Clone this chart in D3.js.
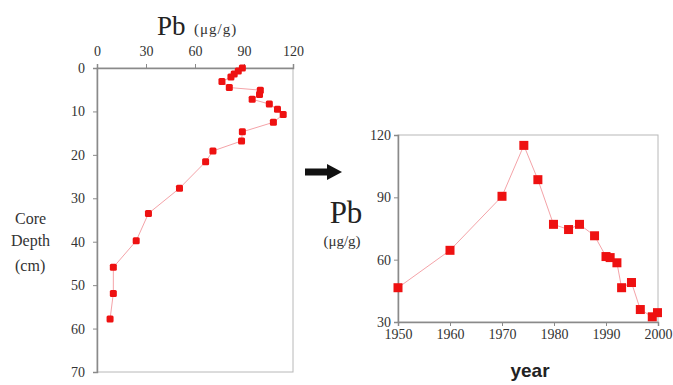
<!DOCTYPE html>
<html>
<head>
<meta charset="utf-8">
<script src="https://cdn.jsdelivr.net/npm/d3@7"></script>
<style>
  body { margin: 0; background: #fff; }
  text { font-family: "Liberation Serif", "DejaVu Serif", serif; }
</style>
</head>
<body>
<svg id="chart" width="673" height="385"></svg>
<script>
// core profile: Pb (ug/g) vs depth (cm)
const corePb =    [89, 86.5, 84, 82, 76.5, 81, 100, 99.5, 95, 105.5, 110.5, 114, 108, 89, 88.5, 71, 66.5, 50.5, 31.5, 24, 10, 10, 8];
const coreDepth = [0, 0.7, 1.4, 2.1, 3.1, 4.5, 5.1, 6.1, 7.2, 8.3, 9.5, 10.7, 12.5, 14.7, 16.8, 19.1, 21.6, 27.7, 33.5, 39.8, 45.9, 51.9, 57.8];
const depthTicks = [0, 10, 20, 30, 40, 50, 60, 70];
const pbTicksTop = [0, 30, 60, 90, 120];

// dated series: Pb (ug/g) vs year
const years =   [1950, 1960, 1970, 1974.2, 1976.9, 1979.9, 1982.8, 1984.9, 1987.8, 1990, 1990.8, 1992.1, 1993, 1994.9, 1996.6, 1998.9, 1999.9];
const yearPb =  [46.5, 64.5, 90.5, 115, 98.5, 77, 74.5, 77, 71.5, 61.5, 61, 58.5, 46.5, 49, 36, 32.5, 34.5];
const yearTicks = [1950, 1960, 1970, 1980, 1990, 2000];
const pbTicksLeft = [30, 60, 90, 120];

const svg = d3.select("#chart");
const red = "#ee1111", pink = "#f4a3a8", axisGray = "#8a8a8a", tickText = "#333";
const serif = '"Liberation Serif", "DejaVu Serif", serif';

function styleAxis(a) {
    a.attr("font-family", serif).attr("font-size", 14);
    a.select(".domain").attr("stroke", axisGray).attr("stroke-width", 1.5);
    a.selectAll(".tick line").attr("stroke", axisGray);
    a.selectAll(".tick text").attr("fill", tickText).style("font-family", serif);
}

// ---------- left panel ----------
const xL = d3.scaleLinear().domain([0, 120]).range([97, 293]);
const yL = d3.scaleLinear().domain([0, 70]).range([68, 372]);

const gL = svg.append("g");
gL.append("rect")
    .attr("x", xL(0)).attr("y", yL(0))
    .attr("width", xL(120) - xL(0)).attr("height", yL(70) - yL(0))
    .attr("fill", "none").attr("stroke", "#b8b8b8").attr("stroke-width", 1);

styleAxis(gL.append("g").attr("transform", `translate(0,${yL(0)})`)
    .call(d3.axisTop(xL).tickValues(pbTicksTop).tickSize(4).tickPadding(8)));
styleAxis(gL.append("g").attr("transform", `translate(${xL(0)},0)`)
    .call(d3.axisLeft(yL).tickValues(depthTicks).tickSize(4).tickPadding(8)));

gL.append("path")
    .datum(d3.range(corePb.length))
    .attr("fill", "none").attr("stroke", pink).attr("stroke-width", 1)
    .attr("d", d3.line().x(i => xL(corePb[i])).y(i => yL(coreDepth[i])));

gL.selectAll("rect.pt")
    .data(d3.range(corePb.length))
    .join("rect").attr("class", "pt")
    .attr("x", i => xL(corePb[i]) - 3.5).attr("y", i => yL(coreDepth[i]) - 3.5)
    .attr("width", 7).attr("height", 7).attr("rx", 1.5)
    .attr("fill", red);

svg.append("text").attr("x", 157).attr("y", 35)
    .style("font-size", "27px").attr("fill", "#222").text("Pb");
svg.append("text").attr("x", 194).attr("y", 34)
    .style("font-size", "15px").style("letter-spacing", "1px").attr("fill", "#333").text("(μg/g)");

const coreLab = svg.append("g").attr("fill", "#333").style("font-size", "16px");
coreLab.append("text").attr("x", 15).attr("y", 224).text("Core");
coreLab.append("text").attr("x", 11).attr("y", 246).text("Depth");
coreLab.append("text").attr("x", 15).attr("y", 271).text("(cm)");

// ---------- arrow ----------
svg.append("path")
    .attr("d", "M305,168.5 L327,168.5 L327,164 L342,172 L327,180 L327,175.5 L305,175.5 Z")
    .attr("fill", "#111");

// ---------- right panel ----------
const xR = d3.scaleLinear().domain([1950, 2000]).range([398, 658]);
const yR = d3.scaleLinear().domain([30, 120]).range([322, 135]);

const gR = svg.append("g");
gR.append("rect")
    .attr("x", xR(1950)).attr("y", yR(120))
    .attr("width", xR(2000) - xR(1950)).attr("height", yR(30) - yR(120))
    .attr("fill", "none").attr("stroke", "#b8b8b8").attr("stroke-width", 1);

styleAxis(gR.append("g").attr("transform", `translate(0,${yR(30)})`)
    .call(d3.axisBottom(xR).tickValues(yearTicks).tickFormat(d3.format("d")).tickSize(4).tickPadding(3)));
styleAxis(gR.append("g").attr("transform", `translate(${xR(1950)},0)`)
    .call(d3.axisLeft(yR).tickValues(pbTicksLeft).tickSize(4).tickPadding(3)));

gR.append("path")
    .datum(d3.range(years.length))
    .attr("fill", "none").attr("stroke", pink).attr("stroke-width", 1)
    .attr("d", d3.line().x(i => xR(years[i])).y(i => yR(yearPb[i])));

gR.selectAll("rect.pt")
    .data(d3.range(years.length))
    .join("rect").attr("class", "pt")
    .attr("x", i => xR(years[i]) - 4.5).attr("y", i => yR(yearPb[i]) - 4.5)
    .attr("width", 9).attr("height", 9)
    .attr("fill", red);

svg.append("text").attr("x", 346).attr("y", 223).attr("text-anchor", "middle")
    .style("font-size", "31px").attr("fill", "#222").text("Pb");
svg.append("text").attr("x", 342).attr("y", 246).attr("text-anchor", "middle")
    .style("font-size", "15px").attr("fill", "#333").text("(μg/g)");

svg.append("text").attr("x", 530).attr("y", 377).attr("text-anchor", "middle")
    .style("font-family", '"Liberation Sans", Arial, sans-serif')
    .style("font-size", "19px").style("font-weight", "bold").attr("fill", "#222")
    .text("year");
</script>
</body>
</html>
